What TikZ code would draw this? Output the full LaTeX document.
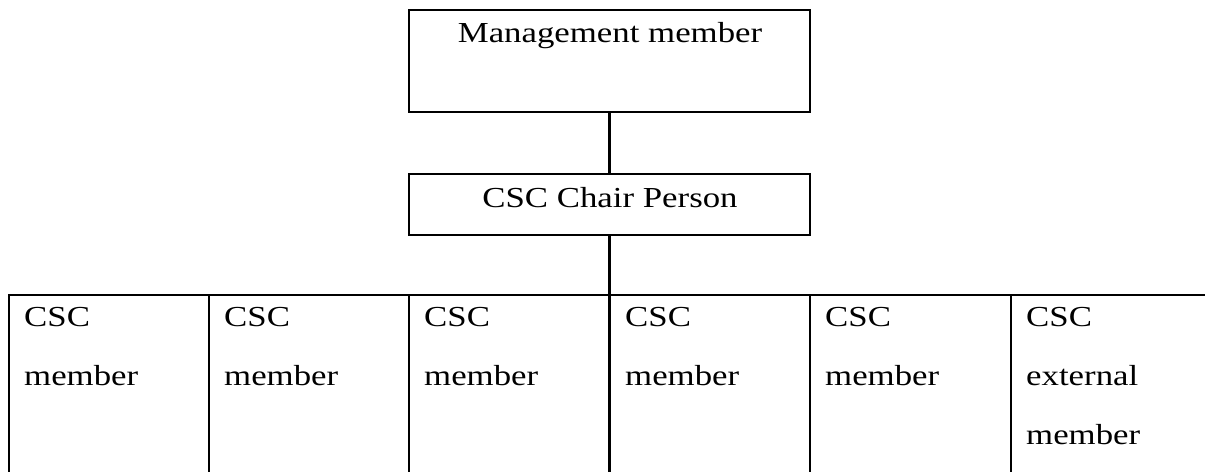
\documentclass[tikz,border=0pt]{standalone}
\usepackage{fontspec}
\setmainfont{Liberation Serif}[FakeStretch=1.2]
\begin{document}
\begin{tikzpicture}[x=1pt,y=-1pt,
  boxline/.style={draw=black,line width=2.8pt},
  box/.style={boxline,rectangle,inner sep=0pt},
  lbl/.style={font=\fontsize{29}{59}\selectfont,inner sep=0pt},
  cell/.style={lbl,align=left,anchor=north west}]
\useasboundingbox (0,0) rectangle (1205,472);
% boxes
\node[box,minimum width=401pt,minimum height=102pt] (mgmt) at (609.5,61) {};
\node[box,minimum width=401pt,minimum height=61pt] (chair) at (609.5,204.5) {};
\node[lbl,anchor=base] (mgmtT) at (610,42) {Management member};
\node[lbl,anchor=base] (chairT) at (610,207) {CSC Chair Person};
% row
\coordinate (rowL) at (8,295);
\coordinate (rowR) at (1205,295);
\coordinate (rowJ) at (609.5,295);
\draw[boxline] (rowL) -- (rowR);
\foreach \x/\n in {9/a,209/b,409/c,609.5/d,810/e,1011/f}{
  \coordinate (t\n) at (\x,295);
  \coordinate (b\n) at (\x,472);
  \draw[boxline] (t\n) -- (b\n);
}
% connectors
\draw[boxline] (mgmt.south) -- (chair.north);
\draw[boxline] (chair.south) -- (rowJ);
% cell texts
\node[cell] (c1) at (24,307.5) {CSC\\member};
\node[cell] (c2) at (224,307.5) {CSC\\member};
\node[cell] (c3) at (424,307.5) {CSC\\member};
\node[cell] (c4) at (625,307.5) {CSC\\member};
\node[cell] (c5) at (825,307.5) {CSC\\member};
\node[cell] (c6) at (1026,307.5) {CSC\\external\\member};
\end{tikzpicture}
\end{document}
